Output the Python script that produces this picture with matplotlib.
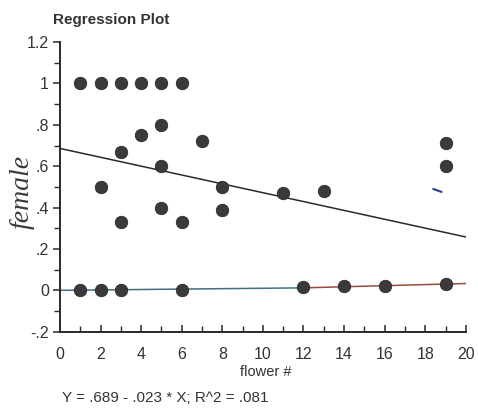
import matplotlib
matplotlib.use("Agg")
import matplotlib.pyplot as plt
import numpy as np
from matplotlib.ticker import MultipleLocator

# ---- data ----
flower_x = [1, 2, 3, 4, 5, 6,
            2, 3, 4, 5, 5, 7, 8, 3, 5, 6, 8, 11, 13, 19, 19,
            1, 2, 3, 6, 12, 14, 16, 19]
female_y = [1.0, 1.0, 1.0, 1.0, 1.0, 1.0,
            0.5, 0.67, 0.75, 0.8, 0.6, 0.72, 0.5, 0.33, 0.4, 0.33, 0.39, 0.47, 0.48, 0.71, 0.6,
            0.0, 0.0, 0.0, 0.0, 0.015, 0.02, 0.02, 0.03]

# fitted line as drawn in the reference (end points)
line_x = [0, 20]
line_y = [0.686, 0.258]

# hand-drawn near-zero line (two coloured pieces)
hand_x_blue = [0, 12]
hand_y_blue = [0.0, 0.012]
hand_x_red = [12, 20]
hand_y_red = [0.012, 0.033]

# small stray pen mark
mark_x = [18.4, 18.8]
mark_y = [0.49, 0.476]

x_ticks = [0, 2, 4, 6, 8, 10, 12, 14, 16, 18, 20]
y_ticks = [-0.2, 0, 0.2, 0.4, 0.6, 0.8, 1.0, 1.2]
y_tick_labels = ["-.2", "0", ".2", ".4", ".6", ".8", "1", "1.2"]

title = "Regression Plot"
x_label = "flower #"
y_label = "female"
equation = "Y = .689 - .023 * X; R^2 = .081"

# ---- figure ----
plt.rcParams['font.family'] = ['Liberation Sans', 'DejaVu Sans']
fig = plt.figure(figsize=(4.78, 4.09), dpi=100)
ax = fig.add_axes([0.1255, 0.189, 0.849, 0.708])

ink = "#2a2a2a"

ax.plot(line_x, line_y, color=ink, lw=1.1, zorder=2)
ax.plot(hand_x_blue, hand_y_blue, color="#3f6f80", lw=1.1, zorder=2)
ax.plot(hand_x_red, hand_y_red, color="#9a4a40", lw=1.1, zorder=2)
ax.plot(mark_x, mark_y, color="#2a4a8a", lw=1.6, zorder=2, solid_capstyle="round")

ax.scatter(flower_x, female_y, s=80, color="#3a3a3a", edgecolors="#2a2a2a",
           linewidths=0.6, zorder=3)

ax.set_xlim(0, 20)
ax.set_ylim(-0.2, 1.2)

for s in ["top", "right"]:
    ax.spines[s].set_visible(False)
for s in ["left", "bottom"]:
    ax.spines[s].set_color(ink)
    ax.spines[s].set_linewidth(1.4)

ax.set_xticks(x_ticks)
ax.set_xticklabels([str(v) for v in x_ticks])
ax.set_yticks(y_ticks)
ax.set_yticklabels(y_tick_labels)
ax.xaxis.set_minor_locator(MultipleLocator(1))
ax.yaxis.set_minor_locator(MultipleLocator(0.1))

ax.tick_params(axis="x", which="both", direction="in", colors=ink, labelsize=11.5,
               labelcolor="#333333", pad=11)
ax.tick_params(axis="x", which="major", length=5, width=1.1)
ax.tick_params(axis="x", which="minor", length=4, width=1.0)
ax.tick_params(axis="y", which="both", direction="out", colors=ink, labelsize=11.5,
               labelcolor="#333333", pad=3)
ax.tick_params(axis="y", which="major", length=5, width=1.1)
ax.tick_params(axis="y", which="minor", length=4, width=1.0)

fig.text(0.111, 0.951, title, fontsize=11, fontweight="bold", color="#333333",
         ha="left", va="center")
fig.text(0.555, 0.0905, x_label, fontsize=10.5, color="#333333", ha="center", va="center")
fig.text(0.129, 0.027, equation, fontsize=11, color="#333333", ha="left", va="center")
fig.text(0.047, 0.53, y_label, fontsize=20, color="#3a3a3a", rotation=90,
         ha="center", va="center", family=["Liberation Serif", "DejaVu Serif"],
         style="italic")

fig.savefig("out.png", dpi=100)
